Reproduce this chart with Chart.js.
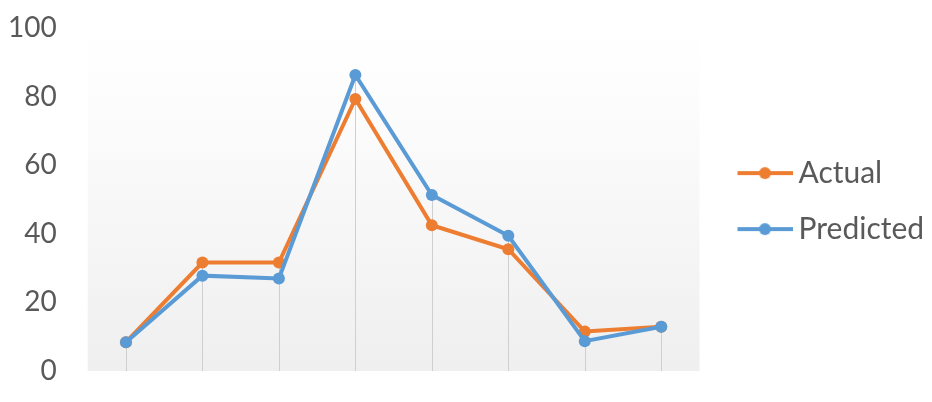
<!doctype html>
<html lang="en">
<head>
<meta charset="utf-8">
<script src="https://cdn.jsdelivr.net/npm/chart.js"></script>
<title>Actual vs Predicted</title>
<style>
  html, body { margin: 0; padding: 0; background: #fff; }
  .chartBox { width: 932px; height: 402px; }
</style>
</head>
<body>
<div class="chartBox">
  <canvas id="myChart"></canvas>
</div>

<script>
// data
var categories = ['1', '2', '3', '4', '5', '6', '7', '8'];
var actual    = [8.4, 31.6, 31.6, 79.3, 42.5, 35.5, 11.5, 12.9];
var predicted = [8.4, 27.8, 27.0, 86.3, 51.3, 39.4, 8.7, 12.9];
var yTicks = [0, 20, 40, 60, 80, 100];

var orange = '#ED7D31';
var blue = '#5B9BD5';

// legend marker: short line with a dot, drawn at the right side of a wider canvas
function legendMark(color) {
	var c = document.createElement('canvas');
	c.width = 76; c.height = 14;
	var g = c.getContext('2d');
	g.strokeStyle = color;
	g.lineWidth = 4;
	g.beginPath();
	g.moveTo(21, 7); g.lineTo(76, 7);
	g.stroke();
	g.fillStyle = color;
	g.beginPath();
	g.arc(48.5, 7, 6, 0, Math.PI * 2);
	g.fill();
	return c;
}

// soft grey gradient behind the plot and drop lines under each point
var plotDeco = {
	id: 'plotDeco',
	beforeDraw(chart) {
		var a = chart.chartArea, ctx = chart.ctx;
		var grad = ctx.createLinearGradient(0, a.top, 0, a.bottom);
		grad.addColorStop(0, '#ffffff');
		grad.addColorStop(0.25, '#fcfcfc');
		grad.addColorStop(1, '#efefef');
		ctx.save();
		ctx.fillStyle = grad;
		ctx.fillRect(a.left, a.top, a.right - a.left, a.bottom - a.top);
		ctx.restore();
	},
	beforeDatasetsDraw(chart) {
		var x = chart.scales.x, y = chart.scales.y, ctx = chart.ctx;
		ctx.save();
		ctx.strokeStyle = '#cfcfcf';
		ctx.lineWidth = 1;
		categories.forEach(function(c, i) {
			var top = Math.max(actual[i], predicted[i]);
			var px = Math.round(x.getPixelForValue(i)) + 0.5;
			ctx.beginPath();
			ctx.moveTo(px, y.getPixelForValue(top));
			ctx.lineTo(px, y.getPixelForValue(0));
			ctx.stroke();
		});
		ctx.restore();
	}
};

new Chart(document.getElementById('myChart'), {
	type: 'line',
	data: {
		labels: categories,
		datasets: [
			{
				label: 'Actual',
				data: actual,
				borderColor: orange,
				backgroundColor: orange,
				borderWidth: 4,
				pointRadius: 6,
				pointBorderWidth: 0,
				pointBackgroundColor: orange,
				tension: 0,
				order: 1
			},
			{
				label: 'Predicted',
				data: predicted,
				borderColor: blue,
				backgroundColor: blue,
				borderWidth: 4,
				pointRadius: 6,
				pointBorderWidth: 0,
				pointBackgroundColor: blue,
				tension: 0,
				order: 0
			}
		]
	},
	options: {
		responsive: true,
		maintainAspectRatio: false,
		animation: false,
		layout: {
			padding: { top: 28, right: 2, bottom: 31, left: 8 }
		},
		scales: {
			x: {
				display: false,
				offset: true
			},
			y: {
				min: 0,
				max: 100,
				afterBuildTicks: function(scale) {
					scale.ticks = yTicks.map(function(v) { return { value: v }; });
				},
				// tick marks are not drawn (grid off) but their length keeps the label gap
				grid: { display: false, drawTicks: true, tickLength: 31 },
				border: { display: false },
				ticks: {
					padding: 0,
					color: '#595959',
					font: { family: 'Lato', size: 28 }
				}
			}
		},
		plugins: {
			tooltip: { enabled: false },
			legend: {
				position: 'right',
				// empty title, only nudges the items down a little
				title: { display: true, text: '', padding: 1, font: { size: 1 } },
				labels: {
					usePointStyle: true,
					pointStyleWidth: 58,
					padding: 26,
					color: '#595959',
					font: { family: 'Lato', size: 30 },
					sort: function(a, b) { return a.datasetIndex - b.datasetIndex; },
					generateLabels: function(chart) {
						var items = Chart.defaults.plugins.legend.labels.generateLabels(chart);
						items.forEach(function(it) {
							it.pointStyle = legendMark(it.datasetIndex === 0 ? orange : blue);
						});
						return items;
					}
				}
			}
		}
	},
	plugins: [plotDeco]
});
</script>
</body>
</html>
